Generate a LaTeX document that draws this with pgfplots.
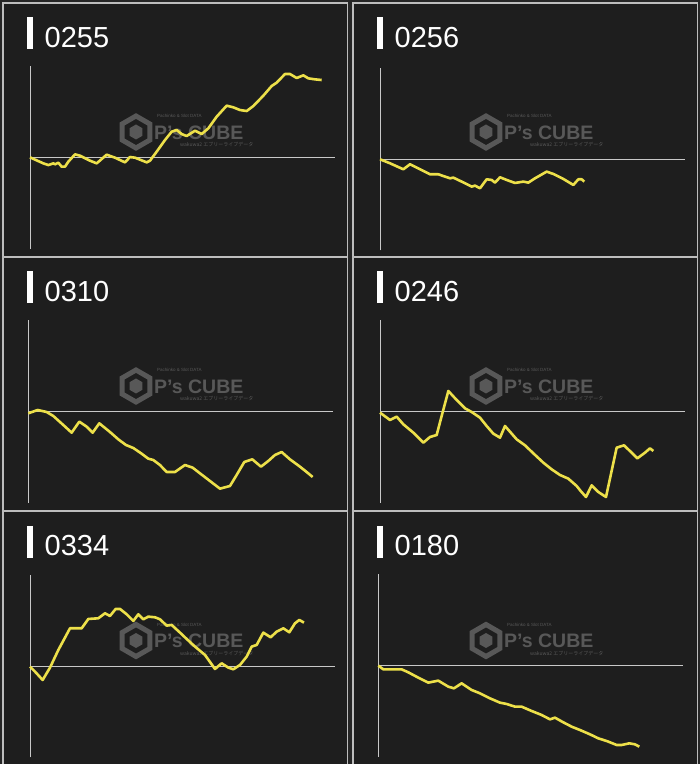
\documentclass[border=0pt]{standalone}
\usepackage{pgfplots}
\pgfplotsset{compat=1.18}
\usepackage{fontspec}
\setmainfont{Liberation Sans}
\newfontfamily\cjk{Noto Sans CJK JP}
\definecolor{outbg}{HTML}{262626}
\definecolor{panelbg}{HTML}{1E1E1E}
\definecolor{bordc}{HTML}{BDBDBD}
\definecolor{lineyel}{HTML}{EDE04A}
\definecolor{axisg}{HTML}{C8C8C8}
\definecolor{wm}{HTML}{585858}

\newcommand\panelframe[3]{%
  \draw[bordc, fill=panelbg, line width=1.3pt] ({3+#1},{764-#2}) rectangle ({347.5+#1},{764-#2-254});
  \fill[white] ({27.3+#1},{764-#2-14.3}) rectangle ({32.7+#1},{764-#2-46.3});
  \node[anchor=base west, inner sep=0pt, white, font=\fontsize{29}{30}\selectfont] at ({44.5+#1},{764-#2-44.5}) {#3};
  \draw[wm, line width=5pt, line join=miter] ({136+#1},{764-#2-129}) +(90:16) -- +(150:16) -- +(210:16) -- +(270:16) -- +(330:16) -- +(30:16) -- cycle;
  \fill[wm] ({136+#1},{764-#2-129}) +(90:7.5) -- +(150:7.5) -- +(210:7.5) -- +(270:7.5) -- +(330:7.5) -- +(30:7.5) -- cycle;
  \node[anchor=base west, inner sep=0pt, wm, font=\bfseries\fontsize{19.5}{20}\selectfont] at ({154+#1},{764-#2-136.5}) {P’s CUBE};
  \node[anchor=base west, inner sep=0pt, wm, font=\fontsize{4.5}{5}\selectfont] at ({157+#1},{764-#2-115}) {Pachinko \& Slot DATA};
  \node[anchor=base west, inner sep=0pt, wm, font=\cjk\fontsize{5}{5}\selectfont] at ({180+#1},{764-#2-144}) {wakuwa2 エブリーライブデータ};
}

\pgfplotsset{panel/.style={scale only axis, width=305pt, height=182.67pt,
  xmin=0, xmax=915, ymin=-274, ymax=274, hide axis, clip=false, anchor=south west},
  yl/.style={lineyel, line width=2.6pt, line join=round, no markers}}
\newcommand\axlines{%
  \draw[axisg, line width=0.9pt] (axis cs:0,-274) -- (axis cs:0,274);
  \draw[axisg, line width=0.9pt] (axis cs:0,0) -- (axis cs:915,0);}

\begin{document}
\begin{tikzpicture}[x=1pt,y=1pt]
\useasboundingbox (0,0) rectangle (700,764);
\fill[outbg] (0,0) rectangle (700,764);
\panelframe{0}{3}{0255}
\panelframe{350}{3}{0256}
\panelframe{0}{257}{0310}
\panelframe{350}{257}{0246}
\panelframe{0}{511.5}{0334}
\panelframe{350}{511.5}{0180}

\begin{axis}[panel, at={(30pt,515.3pt)}]
\axlines
\addplot[yl] coordinates {(0,0) (40,-18) (55,-23) (70,-18) (75,-21) (85,-16) (95,-28) (105,-28) (115,-13) (135,9) (150,5) (180,-10) (200,-18) (230,8) (255,-1) (285,-15) (300,1) (315,-1) (350,-15) (360,-10) (380,17) (405,52) (425,77) (440,82) (455,70) (470,64) (495,80) (515,70) (535,87) (560,122) (590,155) (610,150) (630,142) (650,139) (670,154) (700,185) (725,214) (740,224) (765,250) (780,250) (800,238) (820,246) (835,237) (855,234) (875,232)};
\end{axis}

\begin{axis}[panel, at={(380pt,513.7pt)}]
\axlines
\addplot[yl] coordinates {(0,-1) (30,-13) (70,-31) (90,-16) (120,-31) (150,-46) (175,-46) (210,-58) (220,-56) (245,-68) (275,-83) (285,-80) (300,-88) (320,-61) (335,-63) (345,-71) (360,-55) (380,-63) (405,-72) (430,-68) (445,-71) (465,-58) (500,-38) (520,-45) (550,-60) (580,-78) (595,-61) (605,-61) (613,-68)};
\end{axis}

\begin{axis}[panel, at={(28.3pt,261pt)}]
\axlines
\addplot[yl] coordinates {(0,-5) (28,5) (55,-1) (75,-13) (105,-40) (130,-63) (153,-30) (175,-45) (193,-63) (213,-35) (245,-61) (270,-83) (293,-100) (315,-109) (340,-126) (360,-141) (375,-145) (395,-160) (415,-181) (440,-181) (470,-160) (493,-168) (515,-185) (545,-208) (575,-231) (605,-223) (625,-190) (648,-151) (672,-143) (698,-165) (720,-148) (740,-130) (760,-121) (785,-143) (815,-165) (835,-181) (853,-196)};
\end{axis}

\begin{axis}[panel, at={(380pt,261pt)}]
\axlines
\addplot[yl] coordinates {(0,-3) (30,-25) (50,-15) (70,-38) (100,-63) (130,-93) (150,-76) (170,-70) (185,-13) (205,62) (230,35) (255,10) (275,-1) (300,-18) (320,-43) (340,-66) (360,-78) (375,-43) (410,-83) (435,-101) (460,-125) (490,-153) (515,-173) (540,-190) (565,-201) (590,-223) (602,-238) (618,-256) (635,-221) (655,-241) (678,-256) (710,-108) (732,-101) (755,-123) (772,-140) (795,-123) (810,-110) (820,-118)};
\end{axis}

\begin{axis}[panel, at={(30pt,6.7pt)}]
\axlines
\addplot[yl] coordinates {(0,-2) (15,-17) (38,-42) (60,-5) (85,48) (120,113) (155,113) (175,141) (205,143) (225,158) (240,150) (257,171) (270,171) (290,155) (310,135) (325,155) (340,140) (355,148) (375,146) (390,140) (410,121) (425,123) (450,100) (470,81) (495,58) (525,33) (555,-9) (575,8) (595,-5) (610,-10) (630,3) (650,28) (665,58) (680,63) (700,100) (722,86) (740,103) (760,113) (778,101) (795,128) (808,138) (822,130)};
\end{axis}

\begin{axis}[panel, at={(378.3pt,7pt)}]
\axlines
\addplot[yl] coordinates {(0,0) (15,-11) (45,-11) (70,-11) (90,-20) (120,-36) (150,-51) (180,-45) (210,-63) (227,-68) (250,-53) (280,-73) (305,-83) (335,-98) (365,-111) (385,-115) (410,-123) (430,-123) (460,-136) (490,-148) (515,-161) (530,-156) (555,-170) (580,-183) (605,-193) (635,-206) (660,-218) (685,-226) (715,-238) (730,-238) (753,-233) (770,-236) (783,-243)};
\end{axis}
\end{tikzpicture}
\end{document}
